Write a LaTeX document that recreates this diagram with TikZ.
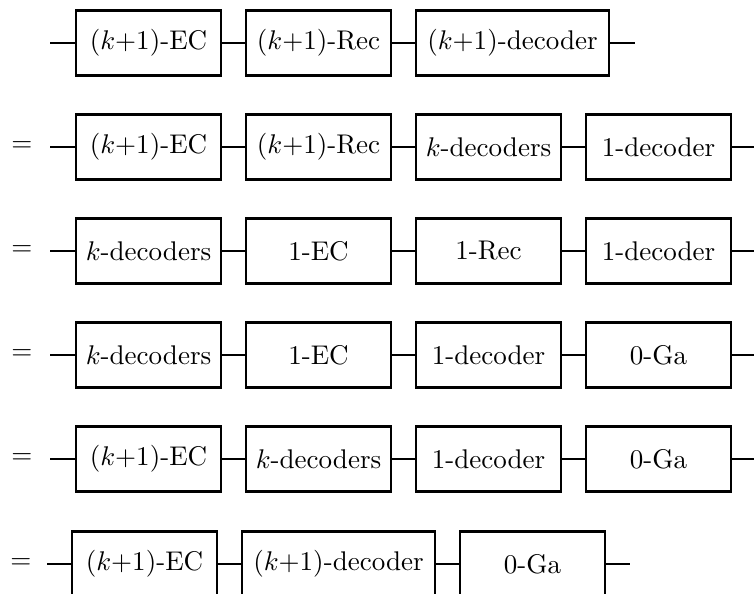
\documentclass[tikz,border=0pt]{standalone}
\usetikzlibrary{positioning}

\tikzset{
	blk/.style={draw, line width=0.8pt, outer sep=0pt, minimum width=53.65pt, minimum height=24.05pt, inner sep=2pt},
	wideblk/.style={blk, minimum width=71.4pt},
	wire/.style={line width=0.8pt},
	eqsign/.style={inner sep=0pt}
}

\begin{document}
\begin{tikzpicture}[x=0.37pt, y=0.37pt, node distance=9.25pt]
		% Frame of the picture
		\useasboundingbox (0,0) rectangle (754,593);
		
		% First line: (k+1)-level gadget
		\coordinate (in0) at (50,550);
		\node[blk, anchor=west] (b01) at (76,550) {$(k{+}1)$-EC};
		\node[blk, right=of b01] (b02) {$(k{+}1)$-Rec};
		\node[wideblk, right=of b02] (b03) {$(k{+}1)$-decoder};
		\coordinate (out0) at (635,550);
		\draw[wire] (in0) -- (b01) -- (b02) -- (b03) -- (out0);
		
		% Equal lines with four blocks
		\foreach \r/\ta/\tb/\tc/\td in {
			1/{$(k{+}1)$-EC}/{$(k{+}1)$-Rec}/{$k$-decoders}/{1-decoder},
			2/{$k$-decoders}/{1-EC}/{1-Rec}/{1-decoder},
			3/{$k$-decoders}/{1-EC}/{1-decoder}/{0-Ga},
			4/{$(k{+}1)$-EC}/{$k$-decoders}/{1-decoder}/{0-Ga}} {
			% Height of the line
			\pgfmathsetmacro{\yr}{550 - 104*\r}
			
			\node[eqsign] (eq\r) at (22,\yr) {$=$};
			\coordinate (in\r) at (50,\yr);
			\node[blk, anchor=west] (b\r1) at (76,\yr) {\ta};
			\node[blk, right=of b\r1] (b\r2) {\tb};
			\node[blk, right=of b\r2] (b\r3) {\tc};
			\node[blk, right=of b\r3] (b\r4) {\td};
			\coordinate (out\r) at (760,\yr);
			
			% Wires between the blocks
			\draw[wire] (in\r) -- (b\r1) -- (b\r2) -- (b\r3) -- (b\r4) -- (out\r);
		}
		
		% Last line, cut at the bottom
		\node[eqsign] (eq5) at (21,29) {$=$};
		\coordinate (in5) at (47,29);
		\node[blk, anchor=west] (b51) at (72,29) {$(k{+}1)$-EC};
		\node[wideblk, right=of b51] (b52) {$(k{+}1)$-decoder};
		\node[blk, right=of b52] (b53) {0-Ga};
		\coordinate (out5) at (630,29);
		\draw[wire] (in5) -- (b51) -- (b52) -- (b53) -- (out5);
		\end{tikzpicture}
\end{document}
